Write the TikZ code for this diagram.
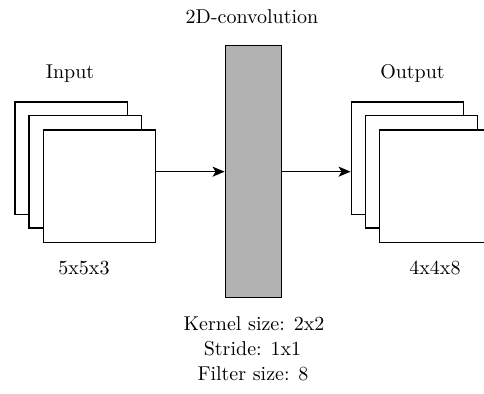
\documentclass[tikz,border=0pt]{standalone}
\usetikzlibrary{arrows.meta}
\begin{document}
\begin{tikzpicture}[x=0.5pt,y=-0.5pt,
  fmap/.style={draw,line width=0.7pt,fill=white,minimum width=56.2pt,minimum height=56.2pt,inner sep=0pt},
  convbox/.style={draw,line width=0.7pt,fill=gray!60,minimum width=28.2pt,minimum height=126pt,inner sep=0pt},
  lbl/.style={anchor=base,inner sep=0pt,font=\normalsize},
  flow/.style={line width=0.7pt,-{Stealth[length=6pt,width=5pt,inset=1.5pt]}}]
\useasboundingbox (0,0) rectangle (484,394);
\clip (0,0) rectangle (484,394);

% input feature maps (back to front)
\node[fmap] (inB) at (71.3,158.2) {};
\node[fmap] (inM) at (85.4,172.0) {};
\node[fmap] (inF) at (99.5,186.2) {};

% convolution layer
\node[convbox] (conv) at (253.5,171.7) {};

% output feature maps (back to front)
\node[fmap] (outB) at (407.5,158.2) {};
\node[fmap] (outM) at (421.6,172.0) {};
\node[fmap] (outF) at (435.7,186.2) {};

% connectors
\draw[flow] (inF.east |- conv.west) -- (conv.west);
\draw[flow] (conv.east) -- (outB.west |- conv.east);

% labels
\node[lbl] (title) at (252,23.3) {2D-convolution};
\node[lbl] (inlbl) at (70,79) {Input};
\node[lbl] (outlbl) at (412.5,79) {Output};
\node[lbl] (insize) at (84,275) {5x5x3};
\node[lbl] (outsize) at (435,275) {4x4x8};
\node[lbl] (kernel) at (254,330.7) {Kernel size: 2x2};
\node[lbl] (stride) at (252.5,355.7) {Stride: 1x1};
\node[lbl] (filter) at (253,380.7) {Filter size: 8};
\end{tikzpicture}
\end{document}
